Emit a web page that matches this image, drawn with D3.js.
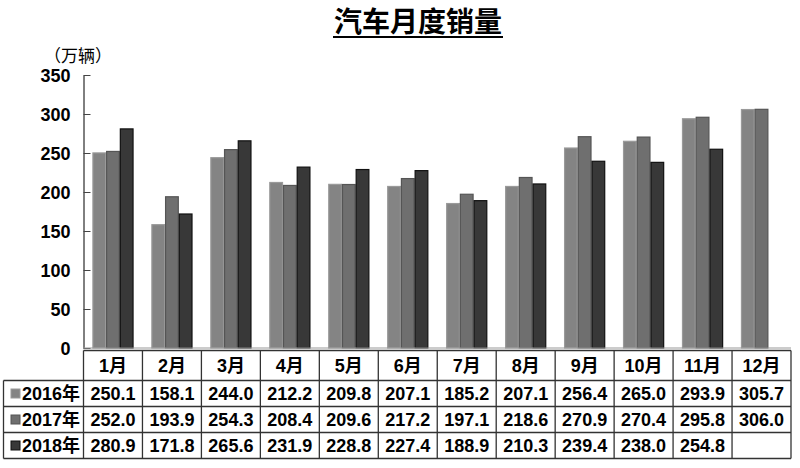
<!DOCTYPE html>
<html>
<head>
<meta charset="utf-8">
<script src="https://cdn.jsdelivr.net/npm/d3@7"></script>
<style>
  body { margin: 0; background: #fff; }
  svg text { font-family: "Liberation Sans", Arial, "Noto Sans CJK SC", sans-serif; font-weight: bold; fill: #000; }
</style>
</head>
<body>
<svg id="chart" width="800" height="468"></svg>
<script>
// data
var months = ['1月','2月','3月','4月','5月','6月','7月','8月','9月','10月','11月','12月'];
var years = ['2016年','2017年','2018年'];
var sales2016 = [250.1, 158.1, 244.0, 212.2, 209.8, 207.1, 185.2, 207.1, 256.4, 265.0, 293.9, 305.7];
var sales2017 = [252.0, 193.9, 254.3, 208.4, 209.6, 217.2, 197.1, 218.6, 270.9, 270.4, 295.8, 306.0];
var sales2018 = [280.9, 171.8, 265.6, 231.9, 228.8, 227.4, 188.9, 210.3, 239.4, 238.0, 254.8, null];
var yTicks = [0, 50, 100, 150, 200, 250, 300, 350];

var series = [sales2016, sales2017, sales2018];
var fills = ['#848484', '#6f6f6f', '#383838'];
var strokes = ['#9a9a9a', '#555', '#111'];

var svg = d3.select('#chart'),
  plotLeft = 83.5, plotRight = 791, plotTop = 75, zeroY = 348,
  tableTop = 350.5, headH = 30, rowH = 26, tableLeft = 3.5,
  fs = '18px';

var x0 = d3.scaleBand().domain(months).range([plotLeft, plotRight]);
var x1 = d3.scaleBand().domain(years).range([0, x0.bandwidth()]).paddingOuter(0.65);
var y = d3.scaleLinear().domain([0, 350]).range([zeroY, plotTop]);

// title
svg.append('text')
  .attr('x', 418).attr('y', 32)
  .attr('text-anchor', 'middle')
  .style('font-family', '"Noto Sans CJK SC", sans-serif')
  .style('font-size', '28px')
  .text('汽车月度销量');
svg.append('line')
  .attr('x1', 333).attr('x2', 503).attr('y1', 37).attr('y2', 37)
  .attr('stroke', '#000').attr('stroke-width', 2);

svg.append('text')
  .attr('x', 44).attr('y', 62)
  .style('font-family', '"Noto Sans CJK SC", sans-serif')
  .style('font-weight', 'normal')
  .style('font-size', '17px')
  .text('（万辆）');

// bars
var g = svg.append('g');
var groups = g.selectAll('.grp')
  .data(months)
  .enter().append('g')
  .attr('class', 'grp')
  .attr('transform', function(d){ return 'translate(' + x0(d) + ',0)'; });

groups.selectAll('rect')
  .data(function(d, i){
    return years.map(function(yr, k){ return {year: yr, k: k, v: series[k][i]}; })
      .filter(function(e){ return e.v != null; });
  })
  .enter().append('rect')
  .attr('x', function(d){ return x1(d.year) + 0.5; })
  .attr('width', x1.bandwidth() - 1)
  .attr('y', function(d){ return y(d.v); })
  .attr('height', function(d){ return zeroY - y(d.v); })
  .attr('fill', function(d){ return fills[d.k]; })
  .attr('stroke', function(d){ return strokes[d.k]; })
  .attr('stroke-width', 1.2);

// y axis
var ax = svg.append('g')
  .attr('transform', 'translate(' + plotLeft + ',0)')
  .call(d3.axisLeft(y).tickValues(yTicks).tickSizeInner(-7).tickSizeOuter(0).tickPadding(13));
ax.select('.domain').attr('stroke', '#000');
ax.selectAll('.tick line').attr('stroke', '#444');
ax.selectAll('.tick text')
  .style('font-size', fs)
  .attr('dy', '0.36em');

svg.append('line')
  .attr('x1', plotLeft).attr('x2', plotRight).attr('y1', zeroY).attr('y2', zeroY)
  .attr('stroke', '#999').attr('stroke-width', 1);

// data table
var tbl = svg.append('g').attr('class', 'table');
var tableBottom = tableTop + headH + rowH * 3;
var lineColor = '#333';

tbl.append('line').attr('x1', plotLeft).attr('x2', plotRight).attr('y1', tableTop).attr('y2', tableTop)
  .attr('stroke', lineColor).attr('stroke-width', 1.3);
[0, 1, 2, 3].forEach(function(r){
  var yy = tableTop + headH + r * rowH;
  tbl.append('line').attr('x1', tableLeft).attr('x2', plotRight).attr('y1', yy).attr('y2', yy)
    .attr('stroke', lineColor).attr('stroke-width', 1.3);
});
tbl.append('line').attr('x1', tableLeft).attr('x2', tableLeft)
  .attr('y1', tableTop + headH).attr('y2', tableBottom).attr('stroke', lineColor).attr('stroke-width', 1.3);
months.forEach(function(m){
  tbl.append('line').attr('x1', x0(m)).attr('x2', x0(m))
    .attr('y1', tableTop).attr('y2', tableBottom).attr('stroke', lineColor).attr('stroke-width', 1.3);
});
tbl.append('line').attr('x1', plotRight).attr('x2', plotRight)
  .attr('y1', tableTop).attr('y2', tableBottom).attr('stroke', lineColor).attr('stroke-width', 1.3);

// header
tbl.selectAll('.mh')
  .data(months)
  .enter().append('text')
  .attr('class', 'mh')
  .attr('x', function(d){ return x0(d) + x0.bandwidth() / 2; })
  .attr('y', tableTop + headH / 2)
  .attr('dy', '0.36em')
  .attr('text-anchor', 'middle')
  .style('font-size', fs)
  .text(function(d){ return d; });

// rows
years.forEach(function(yr, k){
  var cy = tableTop + headH + k * rowH + rowH / 2;
  tbl.append('rect')
    .attr('x', 11).attr('y', cy - 4.5).attr('width', 9).attr('height', 9)
    .attr('fill', fills[k]).attr('stroke', strokes[k]).attr('stroke-width', 1);
  tbl.append('text')
    .attr('x', 22).attr('y', cy).attr('dy', '0.36em')
    .style('font-size', fs)
    .text(yr);
  tbl.selectAll('.v' + k)
    .data(series[k])
    .enter().append('text')
    .attr('class', 'v' + k)
    .attr('x', function(d, i){ return x0(months[i]) + x0.bandwidth() / 2; })
    .attr('y', cy).attr('dy', '0.36em')
    .attr('text-anchor', 'middle')
    .style('font-size', fs)
    .text(function(d){ return d == null ? '' : d.toFixed(1); });
});
</script>
</body>
</html>
